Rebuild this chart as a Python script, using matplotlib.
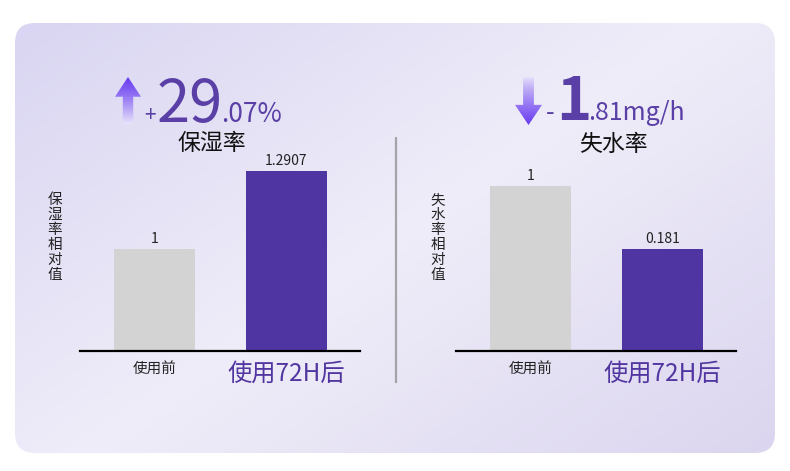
import numpy as np
import matplotlib
matplotlib.use("Agg")
import matplotlib.pyplot as plt
from matplotlib.patches import FancyBboxPatch, Polygon

plt.rcParams['font.family'] = ['Noto Sans CJK SC', 'DejaVu Sans']

# ---------------- data ----------------
categories = ['使用前', '使用72H后']
moist_values = [1.0, 1.2907]
loss_values = [1.0, 0.181]
moist_title = '保湿率'
loss_title = '失水率'
moist_ylabel = '保湿率相对值'
loss_ylabel = '失水率相对值'
moist_change = ('+', '29', '.07%')
loss_change = ('-', '1', '.81mg/h')

# ---------------- style ----------------
W, H = 790, 471
GRAY = '#d3d3d3'
PURPLE = '#4f35a1'
TXT_PURPLE = '#5a3fa6'
LABEL_PURPLE = '#5136a1'

fig = plt.figure(figsize=(W / 100, H / 100), dpi=100)
fig.patch.set_facecolor('white')

bg = fig.add_axes([0, 0, 1, 1])
bg.set_xlim(0, W)
bg.set_ylim(H, 0)
bg.axis('off')

# card with gradient
cx0, cy0, cw, ch = 15, 23, 760, 430
card = FancyBboxPatch((cx0, cy0), cw, ch, boxstyle='round,pad=0,rounding_size=20',
                      facecolor='none', edgecolor='none')
bg.add_patch(card)
gx = np.linspace(0, 1, 380)
gy = np.linspace(0, 1, 215)
GX, GY = np.meshgrid(gx, gy)
t = (GX * 0.55 + GY * 0.45)
c0 = np.array([0xd9, 0xd5, 0xf2]) / 255
c1 = np.array([0xef, 0xed, 0xf9]) / 255
c2 = np.array([0xdb, 0xd5, 0xef]) / 255
tt = t[..., None]
img = np.where(tt < 0.5, c0 + (c1 - c0) * (tt / 0.5), c1 + (c2 - c1) * ((tt - 0.5) / 0.5))
im = bg.imshow(img, extent=(cx0, cx0 + cw, cy0 + ch, cy0), aspect='auto', zorder=0,
               interpolation='bilinear')
im.set_clip_path(card)
bg.set_xlim(0, W)
bg.set_ylim(H, 0)

# divider
bg.plot([396, 396], [137, 383], color='#a3a3a8', lw=1.6, solid_capstyle='butt', zorder=1)


def gradient_arrow(x0, x1, ytop, ybot, up=True):
    xm = (x0 + x1) / 2
    sw = (x1 - x0) * 0.2
    hh = (ybot - ytop) * 0.42
    if up:
        pts = [(xm, ytop), (x1, ytop + hh), (xm + sw, ytop + hh), (xm + sw, ybot),
               (xm - sw, ybot), (xm - sw, ytop + hh), (x0, ytop + hh)]
    else:
        pts = [(xm, ybot), (x1, ybot - hh), (xm + sw, ybot - hh), (xm + sw, ytop),
               (xm - sw, ytop), (xm - sw, ybot - hh), (x0, ybot - hh)]
    poly = Polygon(pts, closed=True, facecolor='none', edgecolor='none')
    bg.add_patch(poly)
    v = np.linspace(0, 1, 100)[:, None]
    top_c = np.array([0x69, 0x3c, 0xf0]) / 255
    bot_c = np.array([0xe8, 0xe3, 0xfa]) / 255
    if up:
        col = top_c + (bot_c - top_c) * v ** 1.2
    else:
        col = bot_c + (top_c - bot_c) * v ** 0.8
    arr = np.repeat(col[:, None, :], 4, axis=1)
    a = bg.imshow(arr, extent=(x0, x1, ybot, ytop), aspect='auto', zorder=2,
                  interpolation='bilinear')
    a.set_clip_path(poly)


gradient_arrow(115, 141, 77, 124, up=True)
gradient_arrow(515, 542, 77, 125, up=False)
bg.set_xlim(0, W)
bg.set_ylim(H, 0)

# headers
bg.text(144, 122, moist_change[0], fontsize=15, color=TXT_PURPLE, va='baseline', ha='left')
bg.text(157, 122, moist_change[1], fontsize=43, color=TXT_PURPLE, va='baseline', ha='left')
bg.text(221, 122, moist_change[2], fontsize=19, color=TXT_PURPLE, va='baseline', ha='left')
bg.text(212, 144, moist_title, fontsize=16.5, color='#111111', va='center', ha='center')

bg.text(546, 120, loss_change[0], fontsize=18, color=TXT_PURPLE, va='baseline', ha='left')
bg.text(556, 120, loss_change[1], fontsize=43, color=TXT_PURPLE, va='baseline', ha='left',
        fontweight='bold')
bg.text(588, 120, loss_change[2], fontsize=18, color=TXT_PURPLE, va='baseline', ha='left')
bg.text(613, 144, loss_title, fontsize=16.5, color='#111111', va='center', ha='center')

# vertical y-labels
for cxl, lab in ((55, moist_ylabel), (438, loss_ylabel)):
    for i, chh in enumerate(lab):
        bg.text(cxl, 200 + i * 15, chh, fontsize=10.5, color='#222222', ha='center', va='center')


def bar_panel(left_px, values, ylim):
    ax = fig.add_axes([left_px / W, (H - 351) / H, 280 / W, 211 / H])
    ax.set_facecolor('none')
    x = np.arange(len(values))
    base = ylim[0]
    heights = [v - base for v in values]
    bars = ax.bar(x, heights, bottom=base, width=0.614, color=[GRAY, PURPLE], zorder=2)
    ax.bar_label(bars, labels=['%g' % v for v in values], padding=2, fontsize=10,
                 color='#222222')
    ax.set_xlim(-0.564, 1.557)
    ax.set_ylim(*ylim)
    for s in ('top', 'right', 'left'):
        ax.spines[s].set_visible(False)
    ax.spines['bottom'].set_linewidth(1.6)
    ax.spines['bottom'].set_color('black')
    ax.set_yticks([])
    ax.set_xticks(x, labels=[])
    ax.tick_params(axis='x', length=0)
    tr = ax.get_xaxis_transform()
    ax.text(x[0], -19 / 211, categories[0], transform=tr, ha='center', va='center',
            fontsize=10.5, color='#222222')
    ax.text(x[1], -22.5 / 211, categories[1], transform=tr, ha='center', va='center',
            fontsize=17.5, color=LABEL_PURPLE)
    return ax


bar_panel(80, moist_values, (0.6198, 1.406))
bar_panel(456, loss_values, (-1.145, 1.598))

fig.savefig('out.png', dpi=100, facecolor='white')
